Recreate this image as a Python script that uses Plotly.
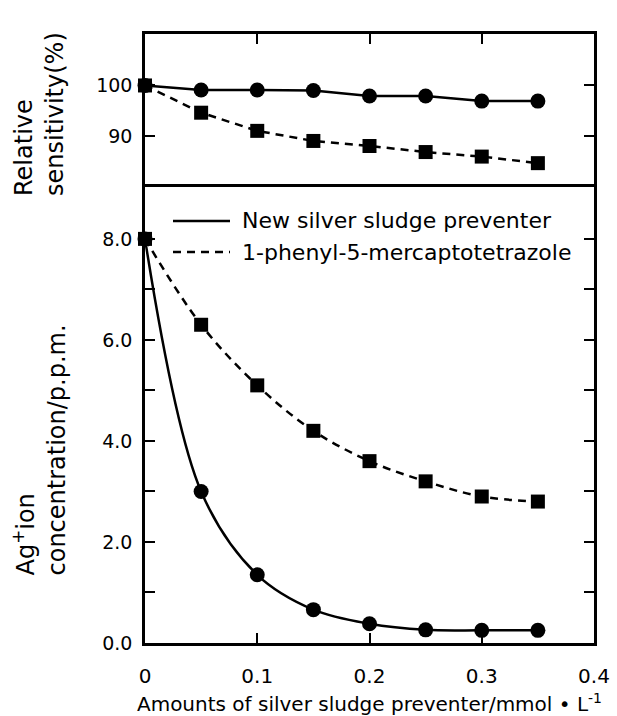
import plotly.graph_objects as go

# ---- data ----
x_amount = [0.0, 0.05, 0.10, 0.15, 0.20, 0.25, 0.30, 0.35]
sens_new = [100.0, 99.1, 99.1, 99.0, 97.9, 97.9, 96.9, 96.9]
sens_pmt = [100.0, 94.6, 91.0, 89.0, 88.0, 86.8, 85.9, 84.6]
ag_new = [8.0, 3.0, 1.35, 0.66, 0.38, 0.26, 0.25, 0.25]
ag_pmt = [8.0, 6.3, 5.1, 4.2, 3.6, 3.2, 2.9, 2.8]
series_names = ["New silver sludge preventer", "1-phenyl-5-mercaptotetrazole"]

x_tickvals = [0, 0.1, 0.2, 0.3, 0.4]
x_ticktext = ["0", "0.1", "0.2", "0.3", "0.4"]
sens_tickvals = [90, 100]
sens_ticktext = ["90", "100"]
ag_tickvals = [0, 2, 4, 6, 8]
ag_ticktext = ["0.0", "2.0", "4.0", "6.0", "8.0"]
ag_minor_tickvals = [1, 3, 5, 7]

FONT = "DejaVu Sans"
BLACK = "black"

fig = go.Figure()

# top panel (relative sensitivity)
fig.add_trace(go.Scatter(x=x_amount, y=sens_new, mode="lines+markers", xaxis="x2", yaxis="y2",
                         line=dict(color=BLACK, width=2.5), marker=dict(symbol="circle", size=15, color=BLACK),
                         cliponaxis=False, showlegend=False, name=series_names[0]))
fig.add_trace(go.Scatter(x=x_amount, y=sens_pmt, mode="lines+markers", xaxis="x2", yaxis="y2",
                         line=dict(color=BLACK, width=2.5, dash="8px,6px"),
                         marker=dict(symbol="square", size=14, color=BLACK),
                         cliponaxis=False, showlegend=False, name=series_names[1]))
# bottom panel (Ag+ concentration)
fig.add_trace(go.Scatter(x=x_amount, y=ag_new, mode="lines+markers", xaxis="x", yaxis="y",
                         line=dict(color=BLACK, width=2.5, shape="spline"),
                         marker=dict(symbol="circle", size=15, color=BLACK),
                         cliponaxis=False, showlegend=False, name=series_names[0]))
fig.add_trace(go.Scatter(x=x_amount, y=ag_pmt, mode="lines+markers", xaxis="x", yaxis="y",
                         line=dict(color=BLACK, width=2.5, dash="8px,6px", shape="spline"),
                         marker=dict(symbol="square", size=14, color=BLACK),
                         cliponaxis=False, showlegend=False, name=series_names[1]))

axis_common = dict(showline=True, linewidth=2.5, linecolor=BLACK, ticks="inside", ticklen=10,
                   tickwidth=2, tickcolor=BLACK, showgrid=False, zeroline=False, automargin=False)

SPLIT = 0.749
fig.update_layout(
    width=617, height=716,
    margin=dict(l=145, r=23, t=34, b=73),
    paper_bgcolor="white", plot_bgcolor="white",
    font=dict(family=FONT, color=BLACK, size=19),
    xaxis=dict(domain=[0, 1], range=[0, 0.4], anchor="y", tickvals=x_tickvals, ticktext=x_ticktext,
               mirror=True, tickfont=dict(size=20), ticklabelstandoff=13,
               title=dict(text="Amounts of silver sludge preventer/mmol • L<sup>-1</sup>",
                          font=dict(size=20), standoff=24),
               **axis_common),
    xaxis2=dict(domain=[0, 1], range=[0, 0.4], anchor="y2", matches="x", side="top",
                tickvals=x_tickvals, showticklabels=False, mirror=False, **axis_common),
    yaxis=dict(domain=[0, SPLIT], range=[0, 9.03], anchor="x", tickvals=ag_tickvals, ticktext=ag_ticktext,
               minor=dict(tickmode="array", tickvals=ag_minor_tickvals, ticks="inside", ticklen=10,
                          tickwidth=2, tickcolor=BLACK, showgrid=False),
               mirror="ticks", tickfont=dict(size=19), ticklabelstandoff=6, **axis_common),
    yaxis2=dict(domain=[SPLIT, 1], range=[79.9, 110.2], anchor="x2", tickvals=sens_tickvals,
                ticktext=sens_ticktext, mirror="ticks", tickfont=dict(size=19), ticklabelstandoff=6,
                **axis_common),
)

# axis titles (rotated, bottom aligned lines)
PLOT_L, PLOT_W, PLOT_B, PLOT_H = 145, 449, 643, 609
def px(xp):
    return (xp - PLOT_L) / PLOT_W
def py(yp):
    return (PLOT_B - yp) / PLOT_H

fig.add_annotation(text="Relative<br>sensitivity(%)", textangle=-90, align="left",
                   xref="paper", yref="paper", x=px(39), y=py(198), xanchor="center", yanchor="bottom",
                   showarrow=False, font=dict(size=24, family=FONT))
fig.add_annotation(text="Ag<sup>+</sup>ion<br>concentration/p.p.m.", textangle=-90, align="left",
                   xref="paper", yref="paper", x=px(39), y=py(578), xanchor="center", yanchor="bottom",
                   showarrow=False, font=dict(size=24, family=FONT))

# legend (line samples + labels)
legend_rows = [(221, "solid"), (252, "dash")]
for (yrow, dash), name in zip(legend_rows, series_names):
    fig.add_shape(type="line", xref="paper", yref="paper", x0=px(173), x1=px(230), y0=py(yrow), y1=py(yrow),
                  line=dict(color=BLACK, width=2.5, dash="8px,6px" if dash == "dash" else "solid"))
    fig.add_annotation(text=name, xref="paper", yref="paper", x=px(240), y=py(yrow), xanchor="left",
                       yanchor="middle", showarrow=False, font=dict(size=22, family=FONT))

fig.write_html("out.html")
